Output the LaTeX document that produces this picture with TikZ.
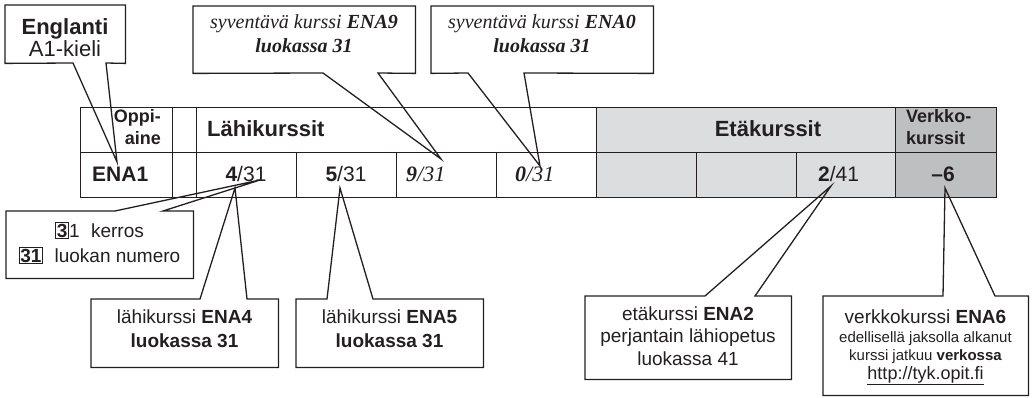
\documentclass[tikz,border=0pt]{standalone}
\usepackage{fontspec}
\setmainfont{Liberation Sans}
\newfontfamily\serifit{Liberation Serif}
\definecolor{ink}{HTML}{231F20}
\definecolor{etagrey}{HTML}{DCDDDF}
\definecolor{verkkogrey}{HTML}{BEBFC1}
\tikzset{
  cellbox/.style={draw=ink, line width=1.3pt, inner sep=0pt, anchor=north west},
  lbl/.style={inner sep=0pt, text=ink},
  calloutline/.style={draw=ink, line width=1.3pt, line join=miter},
  holder/.style={inner sep=0pt, anchor=north west},
  fhead/.style={font=\fontsize{22}{26}\selectfont\bfseries},
  fsmallhead/.style={font=\fontsize{18}{22}\selectfont\bfseries},
  fdata/.style={font=\fontsize{21}{25}\selectfont},
  fser/.style={font=\fontsize{22}{26}\selectfont\serifit\itshape},
  fserc/.style={font=\fontsize{20}{24}\selectfont\serifit\itshape},
  fcall/.style={font=\fontsize{19}{23}\selectfont},
  fbig/.style={font=\fontsize{22}{26}\selectfont},
  ftiny/.style={font=\fontsize{15}{18}\selectfont},
  furl/.style={font=\fontsize{18}{22}\selectfont},
}
\newcommand{\numbox}[1]{{\setlength{\fboxsep}{0.8pt}\setlength{\fboxrule}{0.9pt}\fcolorbox{ink}{white}{\textbf{#1}}}}
\begin{document}
\begin{tikzpicture}[x=1pt,y=-1pt]
\useasboundingbox (0,0) rectangle (1033,398);
% ---------- table row 1
\node[cellbox, minimum width=92pt, minimum height=45pt] (h1) at (80,107) {};
\node[cellbox, minimum width=24pt, minimum height=45pt] (h2) at (172,107) {};
\node[cellbox, minimum width=400pt, minimum height=45pt] (h3) at (196,107) {};
\node[cellbox, fill=etagrey, minimum width=299pt, minimum height=45pt] (h4) at (596,107) {};
\node[cellbox, fill=verkkogrey, minimum width=101pt, minimum height=45pt] (h5) at (895,107) {};
% ---------- table row 2
\node[cellbox, minimum width=92pt, minimum height=45pt] (r1) at (80,152) {};
\node[cellbox, minimum width=24pt, minimum height=45pt] (r2) at (172,152) {};
\node[cellbox, minimum width=100pt, minimum height=45pt] (r3) at (196,152) {};
\node[cellbox, minimum width=100pt, minimum height=45pt] (r4) at (296,152) {};
\node[cellbox, minimum width=100pt, minimum height=45pt] (r5) at (396,152) {};
\node[cellbox, minimum width=100pt, minimum height=45pt] (r6) at (496,152) {};
\node[cellbox, fill=etagrey, minimum width=100pt, minimum height=45pt] (r7) at (596,152) {};
\node[cellbox, fill=etagrey, minimum width=100pt, minimum height=45pt] (r8) at (696,152) {};
\node[cellbox, fill=etagrey, minimum width=99pt, minimum height=45pt] (r9) at (796,152) {};
\node[cellbox, fill=verkkogrey, minimum width=101pt, minimum height=45pt] (r10) at (895,152) {};
% ---------- table texts
\node[lbl, fsmallhead, anchor=base east] (op1) at (161,123) {Oppi-};
\node[lbl, fsmallhead, anchor=base east] (op2) at (161,145) {aine};
\node[lbl, fhead, anchor=base west] (lahi) at (207,137) {Lähikurssit};
\node[lbl, fhead, anchor=base] (eta) at (768,137) {Etäkurssit};
\node[lbl, fsmallhead, anchor=base west] (vk1) at (906,123) {Verkko-};
\node[lbl, fsmallhead, anchor=base west] (vk2) at (906,145) {kurssit};
\node[lbl, fdata, anchor=base west] (ena1) at (92,182) {\textbf{ENA1}};
\node[lbl, fdata, anchor=base] (n4) at (246,182) {\textbf{4}/31};
\node[lbl, fdata, anchor=base] (n5) at (346,182) {\textbf{5}/31};
\node[lbl, fser, anchor=base west] (n9) at (406,182) {\textbf{9}/31};
\node[lbl, fser, anchor=base west] (n0) at (515,182) {\textbf{0}/31};
\node[lbl, fdata, anchor=base west] (n2) at (818,182) {\textbf{2}/41};
\node[lbl, fdata, anchor=base] (n6) at (943,182) {\textbf{–6}};
% ---------- callout 1: Englanti
\node[holder, minimum width=120pt, minimum height=58pt] (eng) at (5,5) {};
\coordinate (engb1) at (73,63);
\coordinate (engb2) at (106,63);
\coordinate (engtip) at (117,162);
\draw[calloutline] (eng.north west) -- (eng.north east) -- (eng.south east) -- (engb2) -- (engtip) -- (engb1) -- (eng.south west) -- cycle;
\node[lbl, fbig, anchor=base] (engt1) at (65,35) {\textbf{Englanti}};
\node[lbl, fbig, anchor=base] (engt2) at (65,57) {A1-kieli};
% ---------- callout 2: ENA9
\node[holder, minimum width=222pt, minimum height=67pt] (s9) at (193,6) {};
\coordinate (s9b1) at (323,73);
\coordinate (s9b2) at (378,73);
\coordinate (s9tip) at (441,159);
\draw[calloutline] (s9.north west) -- (s9.north east) -- (s9.south east) -- (s9b2) -- (s9tip) -- (s9b1) -- (s9.south west) -- cycle;
\node[lbl, fserc, anchor=base] (s9t1) at (304,29) {syventävä kurssi \textbf{ENA9}};
\node[lbl, fserc, anchor=base] (s9t2) at (304,53) {\textbf{luokassa 31}};
% ---------- callout 3: ENA0
\node[holder, minimum width=222pt, minimum height=67pt] (s0) at (431,6) {};
\coordinate (s0b1) at (468,73);
\coordinate (s0b2) at (524,73);
\coordinate (s0tip) at (540,166);
\draw[calloutline] (s0.north west) -- (s0.north east) -- (s0.south east) -- (s0b2) -- (s0tip) -- (s0b1) -- (s0.south west) -- cycle;
\node[lbl, fserc, anchor=base] (s0t1) at (542,29) {syventävä kurssi \textbf{ENA0}};
\node[lbl, fserc, anchor=base] (s0t2) at (542,53) {\textbf{luokassa 31}};
% ---------- callout 4: kerros
\node[holder, minimum width=187pt, minimum height=67pt] (ker) at (6,211) {};
\coordinate (kerb1) at (115,211);
\coordinate (kerb2) at (163,211);
\coordinate (kertip) at (260,180);
\draw[calloutline] (ker.north west) -- (kerb1) -- (kertip) -- (kerb2) -- (ker.north east) -- (ker.south east) -- (ker.south west) -- cycle;
\node[lbl, fcall, anchor=base] (kert1) at (99.5,237) {\numbox{3}1\hspace{0.6em}kerros};
\node[lbl, fcall, anchor=base] (kert2) at (99.5,262) {\numbox{31}\hspace{0.6em}luokan numero};
% ---------- callout 5: ENA4
\node[holder, minimum width=187pt, minimum height=68pt] (l4) at (91,299) {};
\coordinate (l4b1) at (200,299);
\coordinate (l4b2) at (247,299);
\coordinate (l4tip) at (235,188);
\draw[calloutline] (l4.north west) -- (l4b1) -- (l4tip) -- (l4b2) -- (l4.north east) -- (l4.south east) -- (l4.south west) -- cycle;
\node[lbl, fcall, anchor=base] (l4t1) at (184.5,323) {lähikurssi \textbf{ENA4}};
\node[lbl, fcall, anchor=base] (l4t2) at (184.5,347) {\textbf{luokassa 31}};
% ---------- callout 6: ENA5
\node[holder, minimum width=187pt, minimum height=68pt] (l5) at (296,299) {};
\coordinate (l5b1) at (327,299);
\coordinate (l5b2) at (373,299);
\coordinate (l5tip) at (340,188);
\draw[calloutline] (l5.north west) -- (l5b1) -- (l5tip) -- (l5b2) -- (l5.north east) -- (l5.south east) -- (l5.south west) -- cycle;
\node[lbl, fcall, anchor=base] (l5t1) at (389.5,323) {lähikurssi \textbf{ENA5}};
\node[lbl, fcall, anchor=base] (l5t2) at (389.5,347) {\textbf{luokassa 31}};
% ---------- callout 7: ENA2
\node[holder, minimum width=206pt, minimum height=83pt] (e2) at (585,296) {};
\coordinate (e2b1) at (705,296);
\coordinate (e2b2) at (755,296);
\coordinate (e2tip) at (831,186);
\draw[calloutline] (e2.north west) -- (e2b1) -- (e2tip) -- (e2b2) -- (e2.north east) -- (e2.south east) -- (e2.south west) -- cycle;
\node[lbl, fcall, anchor=base] (e2t1) at (688,320) {etäkurssi \textbf{ENA2}};
\node[lbl, fcall, anchor=base] (e2t2) at (688,342) {perjantain lähiopetus};
\node[lbl, fcall, anchor=base] (e2t3) at (688,365) {luokassa 41};
% ---------- callout 8: ENA6
\node[holder, minimum width=205pt, minimum height=99pt] (v6) at (823,296) {};
\coordinate (v6b1) at (943,296);
\coordinate (v6b2) at (995,296);
\coordinate (v6tip) at (945,188);
\draw[calloutline] (v6.north west) -- (v6b1) -- (v6tip) -- (v6b2) -- (v6.north east) -- (v6.south east) -- (v6.south west) -- cycle;
\node[lbl, fcall, anchor=base] (v6t1) at (925.5,323) {verkkokurssi \textbf{ENA6}};
\node[lbl, ftiny, anchor=base] (v6t2) at (925.5,342) {edellisellä jaksolla alkanut};
\node[lbl, ftiny, anchor=base] (v6t3) at (925.5,360) {kurssi jatkuu \textbf{verkossa}};
\node[lbl, furl, anchor=base] (v6t4) at (925.5,379) {\underline{http://tyk.opit.fi}};
\end{tikzpicture}
\end{document}
